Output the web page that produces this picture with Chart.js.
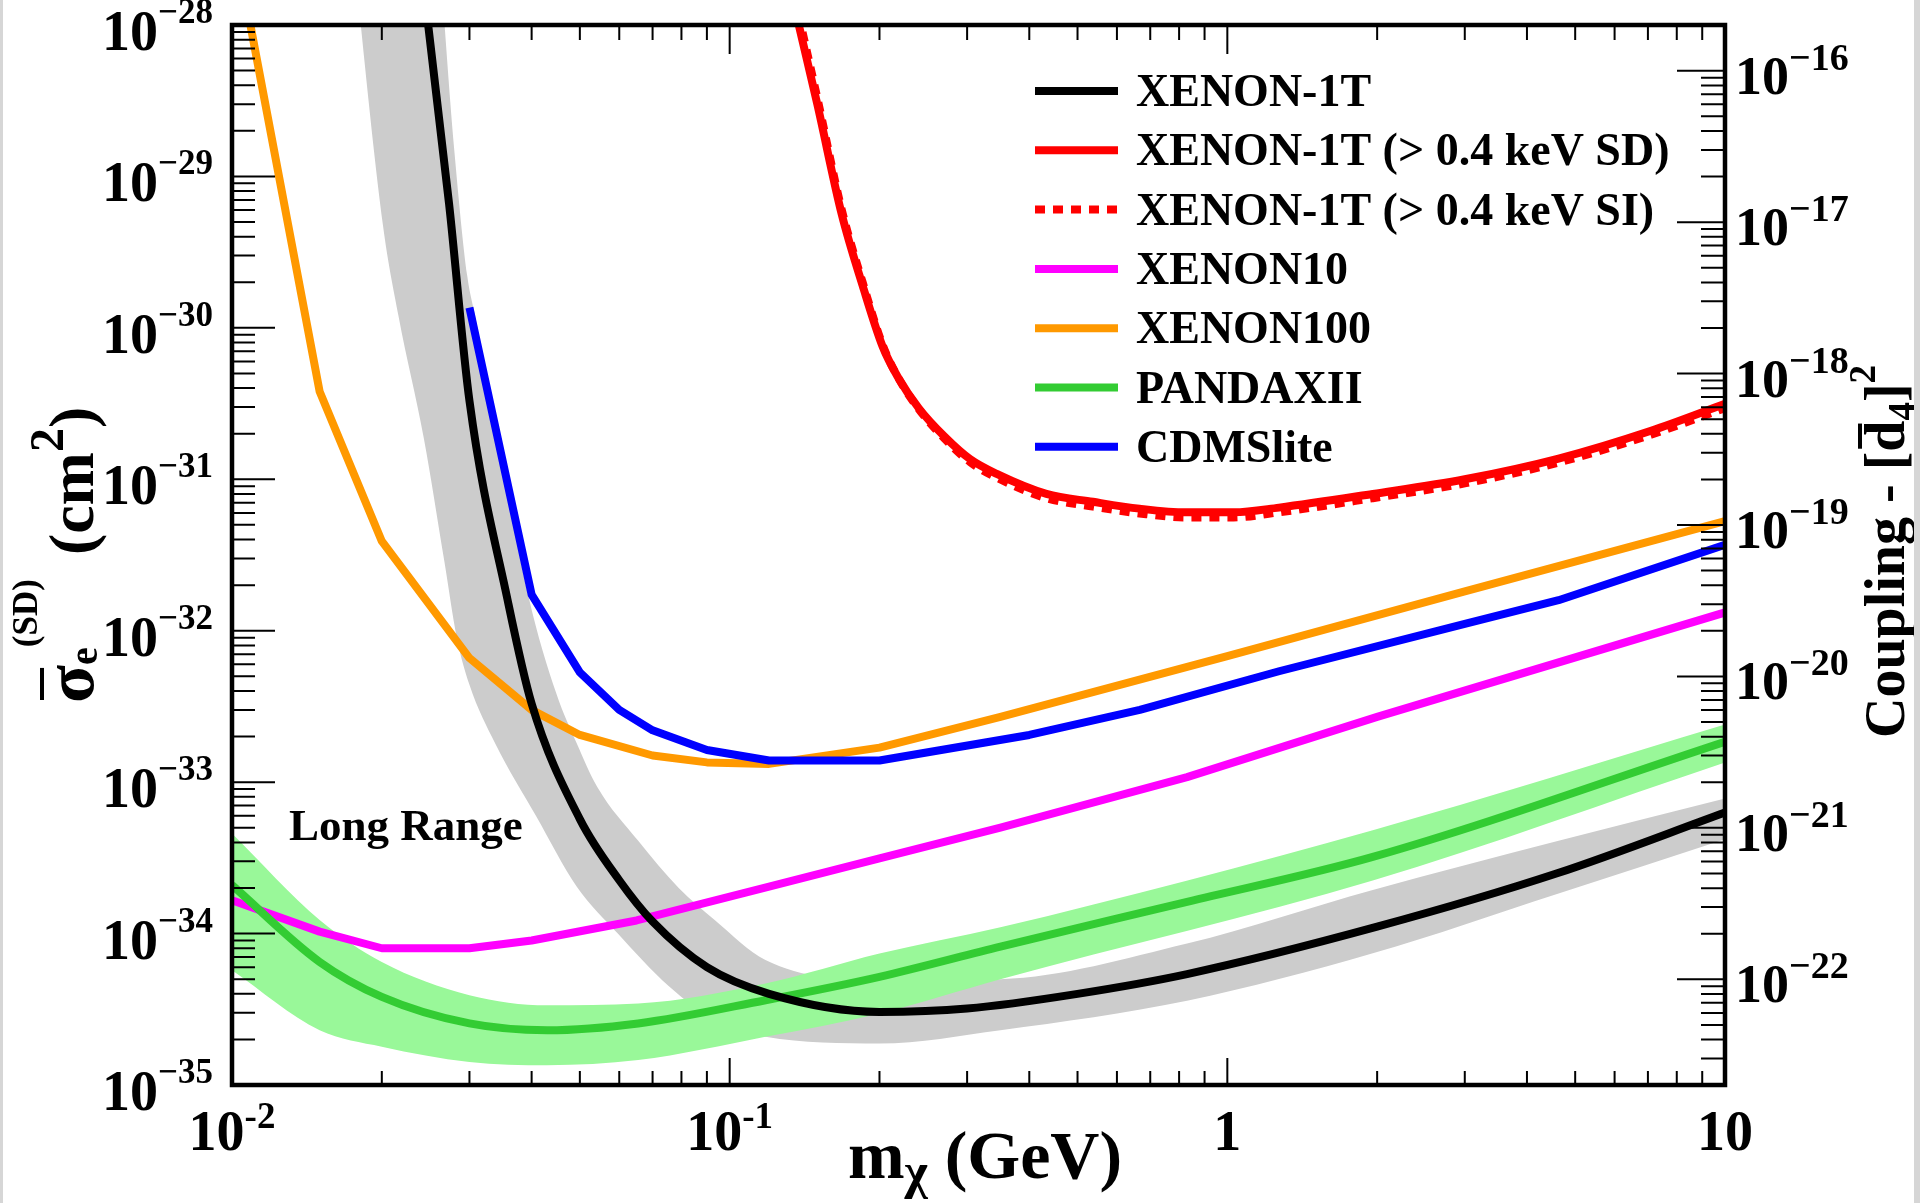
<!DOCTYPE html>
<html>
<head>
<meta charset="utf-8">
<script src="https://cdn.jsdelivr.net/npm/chart.js@4.4.1/dist/chart.umd.min.js"></script>
<style>
  html, body { margin: 0; padding: 0; background: #fff; }
  #wrap { position: relative; width: 1920px; height: 1203px; }
  #limits { display: block; }
  #edgeL { position: absolute; left: 0; top: 0; width: 3px; height: 1203px; background: #d6d6d6; }
  #edgeR { position: absolute; right: 0; top: 0; width: 6px; height: 1203px; background: #d6d6d6; }
</style>
</head>
<body>
<div id="wrap">
  <canvas id="limits" width="1920" height="1203"></canvas>
  <div id="edgeL"></div>
  <div id="edgeR"></div>
</div>
<script>
// ---- data (m in GeV, sigma in cm^2) ----
const massXenon1T = [0.02, 0.0273, 0.03, 0.0358, 0.04, 0.05, 0.06, 0.07, 0.09, 0.12, 0.2, 0.3, 0.5, 0.83, 2, 4.6, 10];
const sigmaXenon1T = [3.9e-26, 6.6e-30, 3.3e-31, 1.59e-32, 3.3e-33, 5.7e-34, 2.25e-34, 1.2e-34, 6.0e-35, 4.0e-35, 3.04e-35, 3.2e-35, 4.0e-35, 5.4e-35, 1.11e-34, 2.5e-34, 6.3e-34];

const massXenon1TBandUp = [0.017, 0.025, 0.028, 0.0297, 0.0308, 0.0394, 0.0449, 0.0493, 0.0542, 0.0655, 0.079, 0.0933, 0.118, 0.2, 0.35, 0.83, 1.96, 4.63, 10];
const sigmaXenon1TBandUp = [1e-24, 1.5e-27, 1.43e-29, 2.2e-30, 1.2e-30, 1.7e-32, 3.8e-33, 1.8e-33, 9.3e-34, 4.1e-34, 2.0e-34, 1.23e-34, 6.7e-35, 4.9e-35, 5.0e-35, 8.6e-35, 1.94e-34, 4.1e-34, 7.8e-34];
const massXenon1TBandLow = [0.017, 0.0201, 0.0216, 0.0243, 0.0267, 0.0283, 0.030, 0.0338, 0.0408, 0.0493, 0.0596, 0.0754, 0.0955, 0.118, 0.2, 0.35, 0.83, 1.96, 4.63, 10];
const sigmaXenon1TBandLow = [8e-28, 4.8e-30, 1.2e-30, 1.85e-31, 2.9e-32, 9e-33, 4.4e-33, 1.8e-33, 6.0e-34, 2.04e-34, 1.0e-34, 4.5e-35, 2.55e-35, 2.08e-35, 1.88e-35, 2.3e-35, 3.6e-35, 7.4e-35, 1.84e-34, 4.2e-34];

const massRed = [0.13, 0.1377, 0.15, 0.168, 0.185, 0.203, 0.218, 0.24, 0.27, 0.304, 0.345, 0.433, 0.537, 0.666, 0.826, 1.03, 1.27, 1.96, 3.0, 4.63, 7.1, 10];
const sigmaXenon1TSD = [2.3e-28, 1.0e-28, 3.0e-29, 5.6e-30, 1.9e-30, 7.5e-31, 4.7e-31, 2.94e-31, 1.92e-31, 1.36e-31, 1.08e-31, 8.0e-32, 7.1e-32, 6.4e-32, 6.05e-32, 6.05e-32, 6.5e-32, 8.0e-32, 1.0e-31, 1.37e-31, 2.09e-31, 3.15e-31];
const sigmaXenon1TSI = [2.6e-28, 1.15e-28, 3.3e-29, 6.0e-30, 2.0e-30, 7.7e-31, 4.7e-31, 2.9e-31, 1.86e-31, 1.3e-31, 1.02e-31, 7.5e-32, 6.6e-32, 5.95e-32, 5.6e-32, 5.6e-32, 6.05e-32, 7.5e-32, 9.4e-32, 1.29e-31, 1.97e-31, 2.95e-31];

const massXenon10 = [0.01, 0.015, 0.02, 0.03, 0.04, 0.065, 0.12, 0.2, 0.35, 0.83, 2.0, 10];
const sigmaXenon10 = [1.66e-34, 1.03e-34, 8.0e-35, 8.0e-35, 9.0e-35, 1.22e-34, 2.04e-34, 3.14e-34, 5.0e-34, 1.08e-33, 2.7e-33, 1.32e-32];

const massXenon100 = [0.01, 0.015, 0.02, 0.03, 0.04, 0.05, 0.07, 0.09, 0.12, 0.2, 0.35, 1.0, 3.0, 10];
const sigmaXenon100 = [4.4e-28, 3.8e-31, 3.9e-32, 6.6e-33, 3.0e-33, 2.05e-33, 1.5e-33, 1.35e-33, 1.32e-33, 1.69e-33, 2.7e-33, 6.8e-33, 1.82e-32, 5.3e-32];

const massPandax = [0.01, 0.015, 0.02, 0.03, 0.043, 0.0655, 0.118, 0.2, 0.35, 0.83, 1.96, 10];
const sigmaPandax = [2.09e-34, 6.5e-35, 3.82e-35, 2.55e-35, 2.3e-35, 2.55e-35, 3.63e-35, 5.18e-35, 8.2e-35, 1.62e-34, 3.21e-34, 1.85e-33];
const massPandaxBand = [0.01, 0.015, 0.02, 0.03, 0.043, 0.0655, 0.118, 0.2, 0.35, 1.96, 10];
const sigmaPandaxBandUp = [4.58e-34, 1.23e-34, 6.5e-35, 3.92e-35, 3.36e-35, 3.45e-35, 4.68e-35, 7.38e-35, 1.1e-34, 4.82e-34, 2.4e-33];
const sigmaPandaxBandLow = [5.73e-35, 2.3e-35, 1.79e-35, 1.42e-35, 1.35e-35, 1.46e-35, 2.08e-35, 2.97e-35, 5.0e-35, 2.24e-34, 1.35e-33];

const massCdms = [0.03, 0.04, 0.05, 0.06, 0.07, 0.09, 0.12, 0.2, 0.4, 0.667, 1.27, 3.0, 4.63, 10];
const sigmaCdms = [1.36e-30, 1.73e-32, 5.3e-33, 3.0e-33, 2.2e-33, 1.63e-33, 1.39e-33, 1.39e-33, 2.05e-33, 3.0e-33, 5.4e-33, 1.11e-32, 1.59e-32, 3.7e-32];

// axis ticks / labels
const xTickValues = [0.01, 0.1, 1, 10];
const xTickLabels = [['10', '-2'], ['10', '-1'], ['1', ''], ['10', '']];
const yTickExponents = [-28, -29, -30, -31, -32, -33, -34, -35];
const couplingTickExponents = [-16, -17, -18, -19, -20, -21, -22];
const couplingShift = 12.302; // log10(coupling / sigma) of the right axis

const legendOrder = ['XENON-1T', 'XENON-1T (> 0.4 keV SD)', 'XENON-1T (> 0.4 keV SI)', 'XENON10', 'XENON100', 'PANDAXII', 'CDMSlite'];

const SERIF = '"Liberation Serif", "Times New Roman", Times, serif';

function pts(m, s) {
  return m.map((x, i) => ({ x: x, y: s[i] }));
}

function curve(label, m, s, color, extra) {
  return Object.assign({
    label: label,
    data: pts(m, s),
    borderColor: color,
    backgroundColor: color,
    borderWidth: 8,
    pointRadius: 0,
    fill: false,
    clip: 0,
  }, extra || {});
}

function bandEdge(label, m, s, fillColor, fillTarget, extra) {
  return Object.assign({
    label: label,
    data: pts(m, s),
    borderColor: 'rgba(0,0,0,0)',
    backgroundColor: fillColor,
    borderWidth: 0,
    pointRadius: 0,
    fill: fillTarget,
    clip: 0,
  }, extra || {});
}

// draws text made of pieces (base text, sub/superscripts) on one baseline
function drawRich(ctx, parts, x, y, align) {
  let total = 0;
  for (const p of parts) {
    ctx.font = 'bold ' + p.size + 'px ' + SERIF;
    p.w = ctx.measureText(p.t).width;
    total += p.w + (p.gap || 0);
  }
  let cx = x;
  if (align === 'right') cx = x - total;
  if (align === 'center') cx = x - total / 2;
  for (const p of parts) {
    ctx.font = 'bold ' + p.size + 'px ' + SERIF;
    ctx.fillText(p.t, cx, y + (p.dy || 0));
    if (p.bar) ctx.fillRect(cx + 3, y - p.bar, p.w - 6, 4);
    cx += p.w + (p.gap || 0);
  }
}

function logTicks(min, max) {
  const out = [];
  for (let e = Math.floor(Math.log10(min)); e <= Math.ceil(Math.log10(max)); e++) {
    for (let k = 1; k <= 9; k++) {
      const v = k * Math.pow(10, e);
      if (v >= min * 0.9999 && v <= max * 1.0001) out.push({ v: v, major: k === 1 });
    }
  }
  return out;
}

const rootStylePlugin = {
  id: 'rootStyle',
  afterDraw(chart) {
    const { ctx, chartArea: { top, bottom, left, right }, scales: { x, y, y2 } } = chart;
    ctx.save();
    ctx.fillStyle = '#000';
    ctx.strokeStyle = '#000';
    ctx.textBaseline = 'alphabetic';
    ctx.textAlign = 'left';

    // ticks pointing into the frame
    ctx.lineWidth = 2;
    ctx.beginPath();
    for (const t of logTicks(x.min, x.max)) {
      const px = x.getPixelForValue(t.v);
      ctx.moveTo(px, bottom);
      ctx.lineTo(px, bottom - (t.major ? 27 : 14));
      ctx.moveTo(px, top);
      ctx.lineTo(px, top + (t.major ? 29 : 15));
    }
    for (const t of logTicks(y.min, y.max)) {
      const py = y.getPixelForValue(t.v);
      ctx.moveTo(left, py);
      ctx.lineTo(left + (t.major ? 43 : 23), py);
    }
    for (const t of logTicks(y2.min, y2.max)) {
      const py = y2.getPixelForValue(t.v);
      ctx.moveTo(right, py);
      ctx.lineTo(right - (t.major ? 48 : 24), py);
    }
    ctx.stroke();

    // frame
    ctx.lineWidth = 4.5;
    ctx.strokeRect(left, top, right - left, bottom - top);

    // tick labels
    yTickExponents.forEach(e => {
      const py = y.getPixelForValue(Math.pow(10, e));
      drawRich(ctx, [{ t: '10', size: 56 }, { t: '\u2212' + (-e), size: 35, dy: -27 }], 213, py + 25, 'right');
    });
    couplingTickExponents.forEach(e => {
      const py = y2.getPixelForValue(Math.pow(10, e));
      drawRich(ctx, [{ t: '10', size: 54 }, { t: '\u2212' + (-e), size: 38, dy: -24 }], 1735, py + 23, 'left');
    });
    xTickValues.forEach((v, i) => {
      const px = x.getPixelForValue(v);
      const lab = xTickLabels[i];
      const parts = [{ t: lab[0], size: 56 }];
      if (lab[1]) parts.push({ t: lab[1], size: 37, dy: -22 });
      drawRich(ctx, parts, px, 1150, 'center');
    });

    // axis titles
    drawRich(ctx, [{ t: 'm', size: 68 }, { t: '\u03c7', size: 50, dy: 10 }, { t: ' (GeV)', size: 68 }], 985, 1178, 'center');

    ctx.save();
    ctx.translate(93, 703);
    ctx.rotate(-Math.PI / 2);
    drawRich(ctx, [
      { t: '\u03c3', size: 70, bar: 53 },
      { t: 'e', size: 40, dy: 4 },
      { t: '(SD)', size: 35, dy: -56, gap: 24 },
      { t: '(cm', size: 64 },
      { t: '2', size: 48, dy: -30 },
      { t: ')', size: 64 },
    ], 0, 0, 'left');
    ctx.restore();

    ctx.save();
    ctx.translate(1904, 738);
    ctx.rotate(-Math.PI / 2);
    drawRich(ctx, [
      { t: 'Coupling - [', size: 56 },
      { t: 'd', size: 56, bar: 46 },
      { t: '4', size: 37, dy: 10 },
      { t: ']', size: 56 },
      { t: '2', size: 37, dy: -29 },
    ], 0, 0, 'left');
    ctx.restore();

    // legend (inside the frame, no box)
    const rowTop = 91, rowStep = 59.3;
    legendOrder.forEach((label, i) => {
      const ds = chart.data.datasets.find(d => d.label === label);
      const ry = rowTop + i * rowStep;
      ctx.save();
      ctx.strokeStyle = ds.borderColor;
      ctx.lineWidth = 8;
      ctx.setLineDash(ds.borderDash || []);
      ctx.beginPath();
      ctx.moveTo(1035, ry);
      ctx.lineTo(1118, ry);
      ctx.stroke();
      ctx.restore();
      ctx.font = 'bold 46px ' + SERIF;
      ctx.fillText(label, 1136, ry + 15);
    });

    ctx.font = 'bold 45px ' + SERIF;
    ctx.fillText('Long Range', 289, 840);
    ctx.restore();
  },
};

const smooth = { cubicInterpolationMode: 'monotone' };

const datasets = [
  curve('XENON-1T', massXenon1T, sigmaXenon1T, '#000000', smooth),
  curve('PANDAXII', massPandax, sigmaPandax, '#33cc33', smooth),
  curve('XENON10', massXenon10, sigmaXenon10, '#ff00ff'),
  curve('CDMSlite', massCdms, sigmaCdms, '#0000ff'),
  curve('XENON100', massXenon100, sigmaXenon100, '#ff9900'),
  curve('XENON-1T (> 0.4 keV SI)', massRed, sigmaXenon1TSI, '#ff0000', { borderDash: [10, 8], cubicInterpolationMode: 'monotone' }),
  curve('XENON-1T (> 0.4 keV SD)', massRed, sigmaXenon1TSD, '#ff0000', smooth),
  bandEdge('PANDAXII band low', massPandaxBand, sigmaPandaxBandLow, 'rgba(0,0,0,0)', false, smooth),
  bandEdge('PANDAXII band up', massPandaxBand, sigmaPandaxBandUp, '#99f899', '-1', smooth),
  bandEdge('XENON-1T band low', massXenon1TBandLow, sigmaXenon1TBandLow, 'rgba(0,0,0,0)', false, smooth),
  bandEdge('XENON-1T band up', massXenon1TBandUp, sigmaXenon1TBandUp, '#cccccc', '-1', smooth),
];

const hidden = { grid: { display: false }, border: { display: false }, ticks: { display: false } };

new Chart(document.getElementById('limits'), {
  type: 'line',
  data: { datasets: datasets },
  options: {
    responsive: false,
    animation: false,
    layout: { padding: { top: 25, left: 0, right: 0, bottom: 0 } },
    elements: { line: { tension: 0, borderJoinStyle: 'round', borderCapStyle: 'butt' } },
    scales: {
      x: Object.assign({ type: 'logarithmic', min: 0.01, max: 10, afterFit: s => { s.height = 118; } }, hidden),
      y: Object.assign({ type: 'logarithmic', position: 'left', min: 1e-35, max: 1e-28, afterFit: s => { s.width = 232; } }, hidden),
      y2: Object.assign({
        type: 'logarithmic', position: 'right',
        min: Math.pow(10, -35 + couplingShift), max: Math.pow(10, -28 + couplingShift),
        afterFit: s => { s.width = 195; },
      }, hidden),
    },
    plugins: {
      legend: { display: false },
      tooltip: { enabled: false },
    },
  },
  plugins: [rootStylePlugin],
});
</script>
</body>
</html>
